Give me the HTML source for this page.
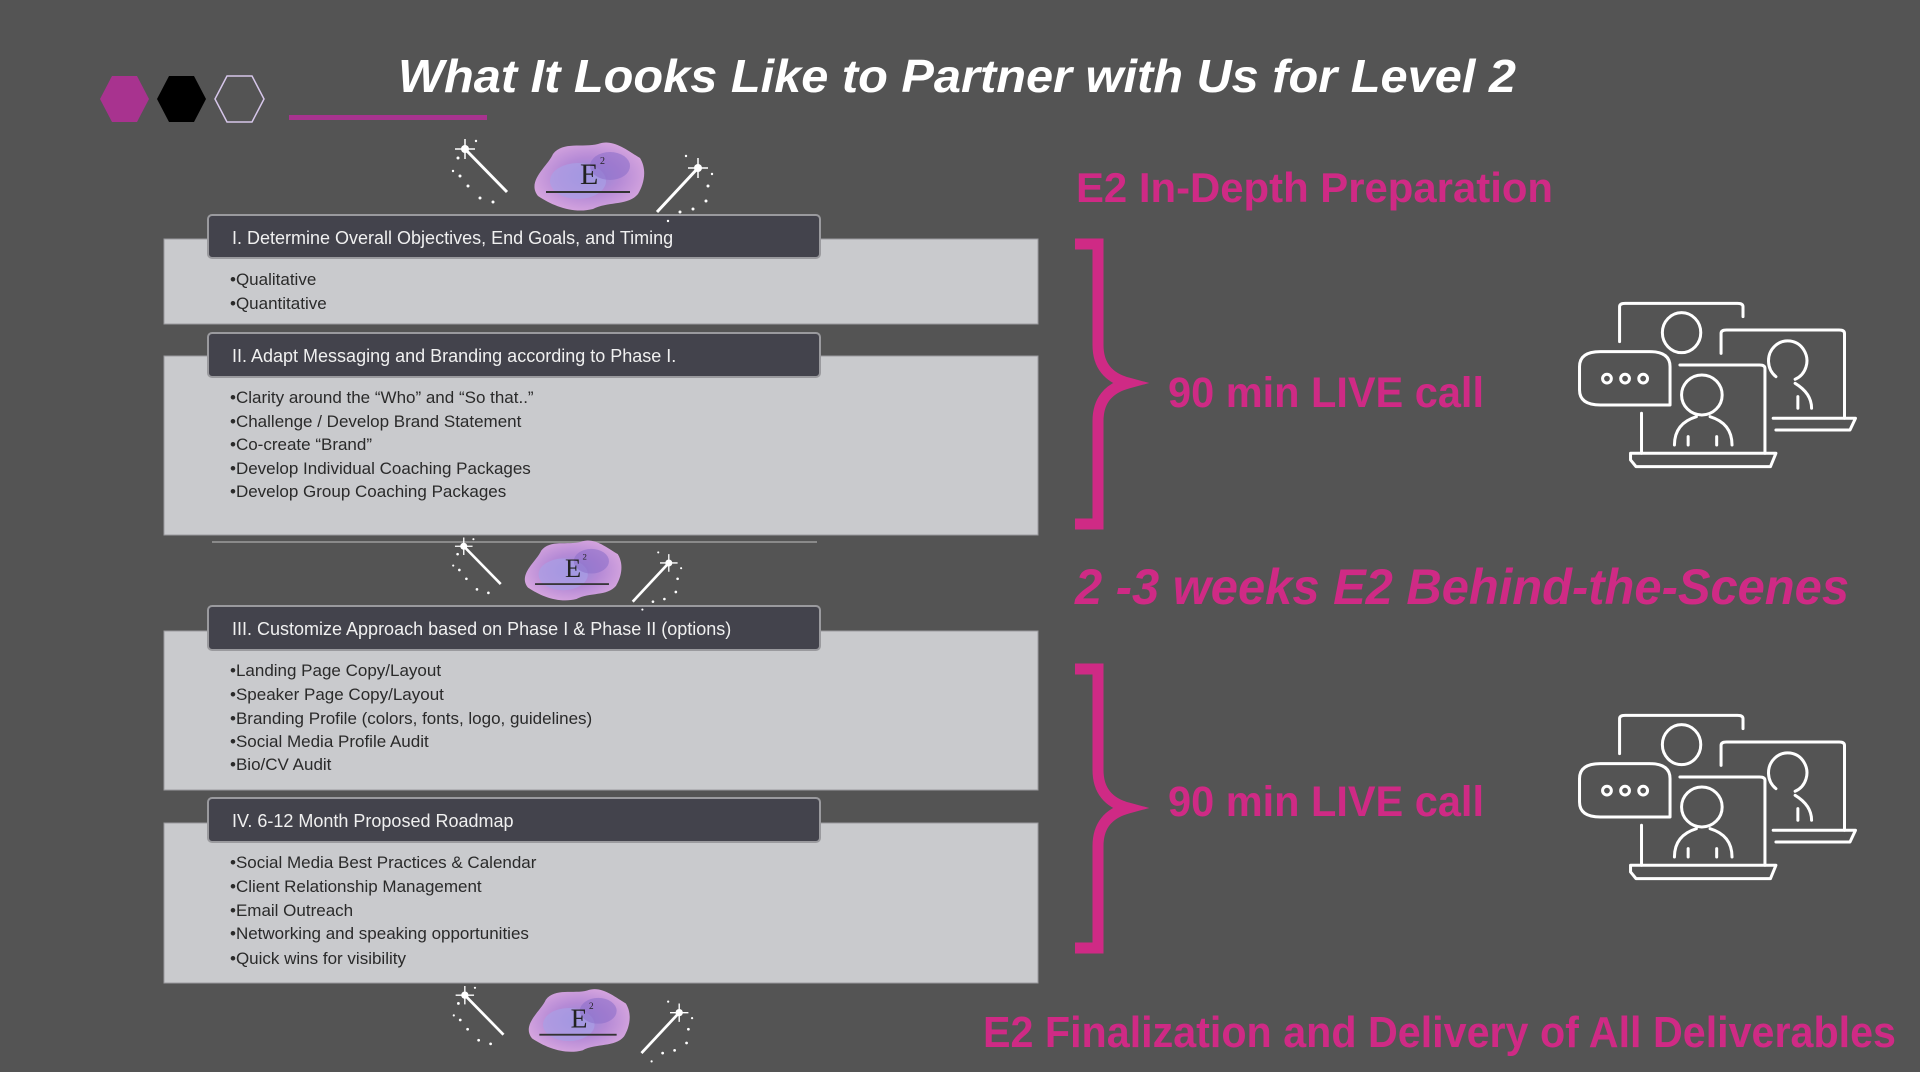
<!DOCTYPE html>
<html><head><meta charset="utf-8"><style>
html,body{margin:0;padding:0;background:#545454;}
svg{display:block}
</style></head><body>
<svg width="1920" height="1072" viewBox="0 0 1920 1072" xmlns="http://www.w3.org/2000/svg" font-family="Liberation Sans, sans-serif">
<defs>
<radialGradient id="blob" cx="50%" cy="50%" r="55%">
<stop offset="0" stop-color="#8f86d8"/><stop offset="0.5" stop-color="#b58ad6"/><stop offset="1" stop-color="#d7a6df"/>
</radialGradient>
<g id="logo">
<path d="M-50,20 C-62,5 -40,-10 -35,-22 C-25,-35 -5,-28 10,-32 C25,-38 40,-25 52,-18 C60,-5 55,10 50,18 C40,30 20,25 5,33 C-15,38 -35,30 -50,20Z" fill="url(#blob)"/>
<ellipse cx="-10" cy="5" rx="28" ry="18" fill="#a9a0e6" opacity="0.7"/>
<ellipse cx="22" cy="-10" rx="20" ry="14" fill="#8d6fc9" opacity="0.6"/>
<text x="-8" y="8" font-family="Liberation Serif, serif" font-size="30" fill="#222">E</text>
<text x="12" y="-12" font-family="Liberation Serif, serif" font-size="10" fill="#222">2</text>
<rect x="-42" y="15" width="84" height="2" fill="#333"/>
<line x1="-123" y1="-27" x2="-81" y2="16" stroke="#fff" stroke-width="3"/>
<circle cx="-123" cy="-27" r="4" fill="#fff"/>
<path d="M-123,-37 L-123,-17 M-133,-27 L-113,-27" stroke="#fff" stroke-width="1.5"/>
<line x1="110" y1="-8" x2="69" y2="36" stroke="#fff" stroke-width="3"/>
<circle cx="110" cy="-8" r="4" fill="#fff"/>
<path d="M110,-18 L110,2 M100,-8 L120,-8" stroke="#fff" stroke-width="1.5"/>
<g fill="#fff">
<circle cx="-130" cy="-18" r="1.5"/><circle cx="-128" cy="0" r="1.5"/><circle cx="-120" cy="10" r="1.5"/><circle cx="-108" cy="22" r="1.5"/><circle cx="-95" cy="26" r="1.5"/><circle cx="-112" cy="-35" r="1.2"/><circle cx="-135" cy="-5" r="1.2"/>
<circle cx="120" cy="10" r="1.5"/><circle cx="118" cy="25" r="1.5"/><circle cx="105" cy="33" r="1.5"/><circle cx="92" cy="36" r="1.5"/><circle cx="98" cy="-20" r="1.2"/><circle cx="124" cy="-2" r="1.2"/><circle cx="80" cy="45" r="1.2"/>
</g>
</g>
<g id="icon" fill="none" stroke="#fff" stroke-width="3" stroke-linecap="round" stroke-linejoin="round">
<path d="M1020,575 L1020,470 Q1020,460 1030,460 L1235,460 Q1245,460 1245,470 L1245,500" vector-effect="non-scaling-stroke"/>
<ellipse cx="1133" cy="548" rx="35" ry="60" vector-effect="non-scaling-stroke"/>
<path d="M1205,610 L1205,550 Q1205,540 1215,540 L1420,540 Q1430,540 1430,550 L1430,805" vector-effect="non-scaling-stroke"/>
<path d="M1300,805 L1450,805 L1440,840 L1305,840" vector-effect="non-scaling-stroke"/>
<path d="M1305,680 A35,60 0 1 1 1340,688" vector-effect="non-scaling-stroke"/>
<path d="M1340,700 Q1370,730 1370,775 M1345,740 L1345,775" vector-effect="non-scaling-stroke"/>
<path d="M1060,790 L1060,910 M1130,645 L1275,645 Q1285,645 1285,655 L1285,910" vector-effect="non-scaling-stroke"/>
<path d="M1040,910 L1305,910 L1295,950 L1050,950 L1040,930 Z" vector-effect="non-scaling-stroke"/>
<ellipse cx="1170" cy="735" rx="37" ry="60" vector-effect="non-scaling-stroke"/>
<path d="M1120,885 Q1120,820 1160,800 M1185,800 Q1225,820 1225,885 M1145,860 L1145,885 M1197,860 L1197,885" vector-effect="non-scaling-stroke"/>
<path d="M985,605 L1075,605 Q1112,605 1112,650 L1112,765 L985,765 Q947,765 947,720 L947,650 Q947,605 985,605 Z" vector-effect="non-scaling-stroke"/>
<ellipse cx="997" cy="686" rx="8" ry="13" vector-effect="non-scaling-stroke"/>
<ellipse cx="1030" cy="686" rx="8" ry="13" vector-effect="non-scaling-stroke"/>
<ellipse cx="1063" cy="686" rx="8" ry="13" vector-effect="non-scaling-stroke"/>
</g>
</defs>

<rect width="1920" height="1072" fill="#545454"/>

<!-- hexagons -->
<polygon points="100,99 112,76 137,76 149,99 137,122 112,122" fill="#a8338f"/>
<polygon points="157,99 169,76 194,76 206,99 194,122 169,122" fill="#000"/>
<polygon points="215,99 227,76 252,76 264,99 252,122 227,122" fill="none" stroke="#d6c6ea" stroke-width="1.5"/>
<rect x="289" y="115" width="198" height="5" fill="#a8338f"/>

<text x="398" y="92" font-size="46" font-weight="bold" font-style="italic" fill="#fff" textLength="1118" lengthAdjust="spacingAndGlyphs">What It Looks Like to Partner with Us for Level 2</text>

<!-- boxes -->
<g font-size="17" fill="#2a2a2a">
<rect x="164" y="239" width="874" height="85" fill="#c9cacd" stroke="#9a9a9e"/>
<rect x="208" y="215" width="612" height="43" rx="4" fill="#43434c" stroke="#9a9a9e" stroke-width="2"/>
<text x="232" y="244" font-size="18" fill="#f0f0f0">I. Determine Overall Objectives, End Goals, and Timing</text>
<text x="230" y="285">•Qualitative</text>
<text x="230" y="309">•Quantitative</text>

<rect x="164" y="356" width="874" height="179" fill="#c9cacd" stroke="#9a9a9e"/>
<rect x="208" y="333" width="612" height="44" rx="4" fill="#43434c" stroke="#9a9a9e" stroke-width="2"/>
<text x="232" y="362" font-size="18" fill="#f0f0f0">II. Adapt Messaging and Branding according to Phase I.</text>
<text x="230" y="403">•Clarity around the “Who” and “So that..”</text>
<text x="230" y="427">•Challenge / Develop Brand Statement</text>
<text x="230" y="450">•Co-create “Brand”</text>
<text x="230" y="474">•Develop Individual Coaching Packages</text>
<text x="230" y="497">•Develop Group Coaching Packages</text>
<line x1="212" y1="542" x2="817" y2="542" stroke="#8a8a8a" stroke-width="2"/>

<rect x="164" y="631" width="874" height="159" fill="#c9cacd" stroke="#9a9a9e"/>
<rect x="208" y="606" width="612" height="44" rx="4" fill="#43434c" stroke="#9a9a9e" stroke-width="2"/>
<text x="232" y="635" font-size="18" fill="#f0f0f0">III. Customize Approach based on Phase I &amp; Phase II (options)</text>
<text x="230" y="676">•Landing Page Copy/Layout</text>
<text x="230" y="700">•Speaker Page Copy/Layout</text>
<text x="230" y="724">•Branding Profile (colors, fonts, logo, guidelines)</text>
<text x="230" y="747">•Social Media Profile Audit</text>
<text x="230" y="770">•Bio/CV Audit</text>

<rect x="164" y="823" width="874" height="160" fill="#c9cacd" stroke="#9a9a9e"/>
<rect x="208" y="798" width="612" height="44" rx="4" fill="#43434c" stroke="#9a9a9e" stroke-width="2"/>
<text x="232" y="827" font-size="18" fill="#f0f0f0">IV. 6-12 Month Proposed Roadmap</text>
<text x="230" y="868">•Social Media Best Practices &amp; Calendar</text>
<text x="230" y="892">•Client Relationship Management</text>
<text x="230" y="916">•Email Outreach</text>
<text x="230" y="939">•Networking and speaking opportunities</text>
<text x="230" y="964">•Quick wins for visibility</text>
</g>

<use href="#logo" transform="translate(588,176)"/>
<use href="#logo" transform="translate(572,570) scale(0.88)"/>
<use href="#logo" transform="translate(578,1020) scale(0.92)"/>

<!-- right side -->
<g fill="#cf2a85" font-weight="bold">
<text x="1076" y="202" font-size="42" textLength="477" lengthAdjust="spacingAndGlyphs">E2 In-Depth Preparation</text>
<text x="1168" y="407" font-size="43" textLength="316" lengthAdjust="spacingAndGlyphs">90 min LIVE call</text>
<text x="1075" y="604" font-size="50" font-style="italic" textLength="774" lengthAdjust="spacingAndGlyphs">2 -3 weeks E2 Behind-the-Scenes</text>
<text x="1168" y="816" font-size="43" textLength="316" lengthAdjust="spacingAndGlyphs">90 min LIVE call</text>
<text x="983" y="1047" font-size="44" textLength="913" lengthAdjust="spacingAndGlyphs">E2 Finalization and Delivery of All Deliverables</text>
</g>
<g fill="none" stroke="#cf2a85" stroke-width="11">
<path d="M1075,244 L1098,244 L1098,345 Q1098,375 1128,383 Q1098,391 1098,421 L1098,524 L1075,524"/>
<path d="M1075,669 L1098,669 L1098,770 Q1098,800 1128,808 Q1098,816 1098,846 L1098,948 L1075,948"/>
</g>

<use href="#icon" transform="translate(1060,150) scale(0.5486,0.3333)"/>
<use href="#icon" transform="translate(1060,562) scale(0.5486,0.3333)"/>
</svg>
</body></html>
